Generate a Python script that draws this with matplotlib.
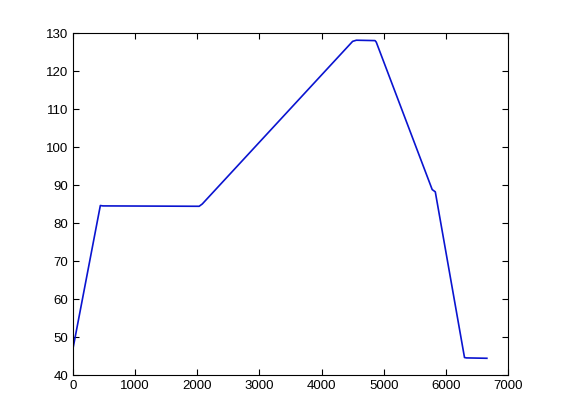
import numpy as np
import matplotlib
matplotlib.use("Agg")
import matplotlib.pyplot as plt

# breakpoints of the trace
x_vals = [0, 440, 480, 2030, 2080, 4500, 4560, 4860, 4880, 5780, 5830, 6300, 6330, 6660]
y_vals = [47.0, 84.6, 84.5, 84.4, 85.0, 127.8, 128.1, 128.0, 127.6, 88.8, 88.2, 44.6, 44.5, 44.4]

x_ticks = np.arange(0, 7001, 1000)
y_ticks = np.arange(40, 131, 10)

plt.rcParams['font.family'] = ['Liberation Sans', 'DejaVu Sans']

fig = plt.figure(figsize=(5.61, 4.2), dpi=100)
ax = fig.add_axes([73/561, 1 - 375/420, 435/561, 342/420])

ax.plot(x_vals, y_vals, color='#0a14d0', linewidth=1.2)

ax.set_xlim(0, 7000)
ax.set_ylim(40, 130)
ax.set_xticks(x_ticks)
ax.set_yticks(y_ticks)
ax.tick_params(direction='in', length=4, width=0.8, top=True, right=True, labelsize=9.5)
for s in ax.spines.values():
    s.set_linewidth(0.8)

fig.savefig("out.png", dpi=100)
